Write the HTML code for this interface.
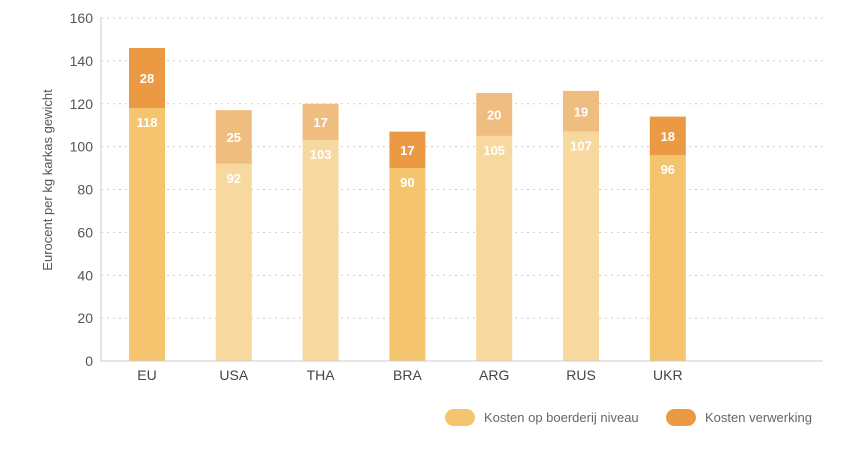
<!DOCTYPE html>
<html><head><meta charset="utf-8"><style>
body{margin:0;background:#fff;font-family:"Liberation Sans",sans-serif}
svg text{font-family:"Liberation Sans",sans-serif}
</style></head><body>
<svg width="858" height="444" id="chart">
<text transform="translate(52,180) rotate(-90)" text-anchor="middle" font-size="13" fill="#555">Eurocent per kg karkas gewicht</text>
<g id="grid"></g><g id="bars"></g>
<line x1="101" y1="18" x2="101" y2="361" stroke="#ccc"/>
<line x1="101" y1="361" x2="823" y2="361" stroke="#ccc"/>
<g>
<rect x="445" y="409" width="30" height="17" rx="8.5" fill="#f4c46f"/>
<text x="484" y="422" font-size="13" fill="#666">Kosten op boerderij niveau</text>
<rect x="666" y="409" width="30" height="17" rx="8.5" fill="#eb9a43"/>
<text x="705" y="422" font-size="13" fill="#666">Kosten verwerking</text>
</g>
</svg>
<script>
const categories=["EU","USA","THA","BRA","ARG","RUS","UKR"];
const farmCosts=[118,92,103,90,105,107,96];
const processingCosts=[28,25,17,17,20,19,18];
const highlighted=[true,false,false,true,false,false,true];
const tickValues=[0,20,40,60,80,100,120,140,160,180];
const tickLabels=["0","20","40","60","80","100","120","140","160","60"];
const NS="http://www.w3.org/2000/svg";
const y=v=>361-v*(343/160);
const x=i=>147+i*86.8;
function mk(t,a,p){const e=document.createElementNS(NS,t);for(const k in a)e.setAttribute(k,a[k]);p.appendChild(e);return e;}
const grid=document.getElementById('grid'),bars=document.getElementById('bars');
tickValues.forEach((v,i)=>{
 if(v>0){const l=mk('line',{x1:101,x2:823,y1:y(v),y2:y(v),stroke:'#ccc','stroke-dasharray':'2,4'},grid);
 
 }
 const t=mk('text',{x:93,y:y(v)+5,'text-anchor':'end','font-size':14,fill:'#555'},grid);
 
 
 t.textContent=tickLabels[i];
});
categories.forEach((c,i)=>{
 const cx=x(i),w=36,f=farmCosts[i],p=processingCosts[i];
 const cb=highlighted[i]?'#f4c46f':'#f7d9a0',ct=highlighted[i]?'#eb9a43':'#f0bd80';
 const r1=mk('rect',{x:cx-w/2,y:y(f),width:w,height:y(0)-y(f),fill:cb},bars);
 
 
 const r2=mk('rect',{x:cx-w/2,y:y(f+p),width:w,height:y(f)-y(f+p),fill:ct},bars);
 
 
 const t1=mk('text',{x:cx,y:y(f)+19,'text-anchor':'middle','font-size':13,'font-weight':'bold',fill:'#fff'},bars);
 
 
 t1.textContent=f;
 const t2=mk('text',{x:cx,y:(y(f)+y(f+p))/2+5,'text-anchor':'middle','font-size':13,'font-weight':'bold',fill:'#fff'},bars);
 
 
 t2.textContent=p;
 const xl=mk('text',{x:cx,y:380,'text-anchor':'middle','font-size':14,fill:'#444'},bars);
 
 
 xl.textContent=c;
});
</script>
</body></html>
